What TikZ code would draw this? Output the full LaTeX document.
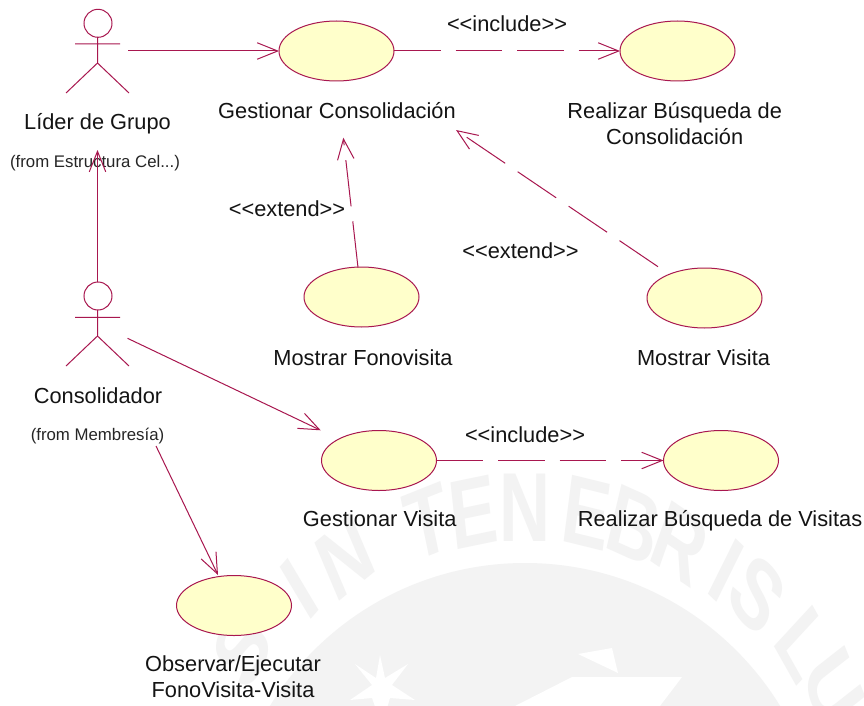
\documentclass[tikz,border=0pt]{standalone}
\usepackage{fontspec}
\setmainfont{Liberation Sans}
\usetikzlibrary{shapes.geometric,arrows.meta}
\definecolor{umlline}{HTML}{A8174F}
\definecolor{umlfill}{HTML}{FFFFCB}
\definecolor{wm}{HTML}{F3F3F3}
\tikzset{
  usecase/.style={shape=ellipse,draw=umlline,fill=umlfill,line width=1pt,minimum width=115pt,minimum height=60pt,inner sep=0pt,outer sep=0pt},
  actorbox/.style={shape=rectangle,minimum width=61pt,minimum height=84pt,inner sep=0pt,outer sep=0pt},
  actorline/.style={draw=umlline,line width=1pt},
  assoc/.style={draw=umlline,line width=1pt,-{Straight Barb[length=20.5pt,width=16.5pt]}},
  depend/.style={assoc,dash pattern=on 46.5pt off 15pt},
  lab/.style={anchor=base,inner sep=0pt,outer sep=0pt,font=\fontsize{21.8pt}{26pt}\selectfont,text=black!92},
  lab2/.style={anchor=north,align=center,inner sep=0pt,outer sep=0pt,font=\fontsize{21.8pt}{26pt}\selectfont,text=black!92},
  small/.style={anchor=base,inner sep=0pt,outer sep=0pt,font=\fontsize{16.8pt}{20pt}\selectfont,text=black!85},
  wmletter/.style={text=wm,inner sep=0pt,outer sep=0pt,font=\fontsize{98pt}{100pt}\selectfont\bfseries,xscale=0.72},
}
\begin{document}
\begin{tikzpicture}[x=1pt,y=-1pt]
\useasboundingbox (0,0) rectangle (864,706);
\fill[white] (0,0) rectangle (864,706);
% watermark
\begin{scope}
\clip (0,0) rectangle (864,706);
\fill[wm] (525,862) circle[radius=299pt];
\foreach \L/\A [count=\i] in {S/-53,I/-39.6,N/-30.5,T/-16,E/-8.5,N/0,E/10,B/18,R/26,I/34.6,S/41,L/52,U/60.6,X/72}{
  \node[wmletter,rotate=-\A] (wm\i) at ({525+354*sin(\A)},{862-354*cos(\A)}) {\L};
}
\fill[white] (380,655) -- (385,678) -- (408,664) -- (392,685) -- (415,700) -- (390,698) -- (385,715) -- (378,715) -- (372,698) -- (350,700) -- (372,685) -- (355,664) -- (376,678) -- cycle;
\fill[white] (578,654) -- (612,648) -- (618,673) -- cycle;
\fill[white] (572,677) -- (682,677) -- (660,706) -- (515,706) -- cycle;
\end{scope}
% use cases
\node[usecase] (gc) at (336.5,51) {};
\node[usecase] (rbc) at (677.5,51) {};
\node[usecase] (mf) at (361.5,297) {};
\node[usecase] (mv) at (704.5,298) {};
\node[usecase] (gv) at (379,460.5) {};
\node[usecase] (rbv) at (721,460.5) {};
\node[usecase] (ofv) at (234,605.5) {};
% actors
\node[actorbox] (lider) at (97.5,51) {};
\node[actorbox] (cons) at (97.5,324) {};
\draw[actorline] (98,23.3) circle[radius=14pt];
\draw[actorline] (97.5,37) -- (97.5,63) (75,44) -- (120,44) (66,93) -- (97.5,63) -- (129,93);
\draw[actorline] (98,296) circle[radius=14pt];
\draw[actorline] (97.5,310) -- (97.5,336) (75,317.3) -- (120,317.3) (66,366) -- (97.5,336) -- (129,366);
% labels
\node[lab] (tlider) at (97.5,130) {Líder de Grupo};
\node[small] (tfrom1) at (95,167) {(from Estructura Cel...)};
\node[lab] (tcons) at (98,403) {Consolidador};
\node[small] (tfrom2) at (97.5,440) {(from Membresía)};
\node[lab] (tgc) at (337,118) {Gestionar Consolidación};
\node[lab2] (trbc) at (674.7,102) {Realizar Búsqueda de\\Consolidación};
\node[lab] (tmf) at (363,365) {Mostrar Fonovisita};
\node[lab] (tmv) at (703.5,365) {Mostrar Visita};
\node[lab] (tgv) at (379.7,526.7) {Gestionar Visita};
\node[lab] (trbv) at (720,526.7) {Realizar Búsqueda de Visitas};
\node[lab2] (tofv) at (233,655.7) {Observar/Ejecutar\\FonoVisita-Visita};
\node[lab] (inc1) at (507,32) {<{}<include>{}>};
\node[lab] (inc2) at (525,442) {<{}<include>{}>};
\node[lab] (ext1) at (287,216) {<{}<extend>{}>};
\node[lab] (ext2) at (520.5,258) {<{}<extend>{}>};
% free connector ends
\coordinate (liderIn) at (97.5,150);
\coordinate (consOut1) at (127.5,338.3);
\coordinate (consOut2) at (156,446);
\coordinate (gvIn) at (320.7,430.3);
\coordinate (ofvIn) at (218,575);
\coordinate (gcIn1) at (343.3,137.7);
\coordinate (gcIn2) at (456,130);
\coordinate (mfOut) at (358,267.5);
\coordinate (mvOut) at (658,266.7);
% connectors
\draw[assoc] (lider.east) -- (gc.west);
\draw[assoc] (cons.north) -- (liderIn);
\draw[assoc] (consOut1) -- (gvIn);
\draw[assoc] (consOut2) -- (ofvIn);
\draw[depend] (gc.east) -- (rbc.west);
\draw[depend] (gv.east) -- (rbv.west);
\draw[depend] (mfOut) -- (gcIn1);
\draw[depend] (mvOut) -- (gcIn2);
\end{tikzpicture}
\end{document}
